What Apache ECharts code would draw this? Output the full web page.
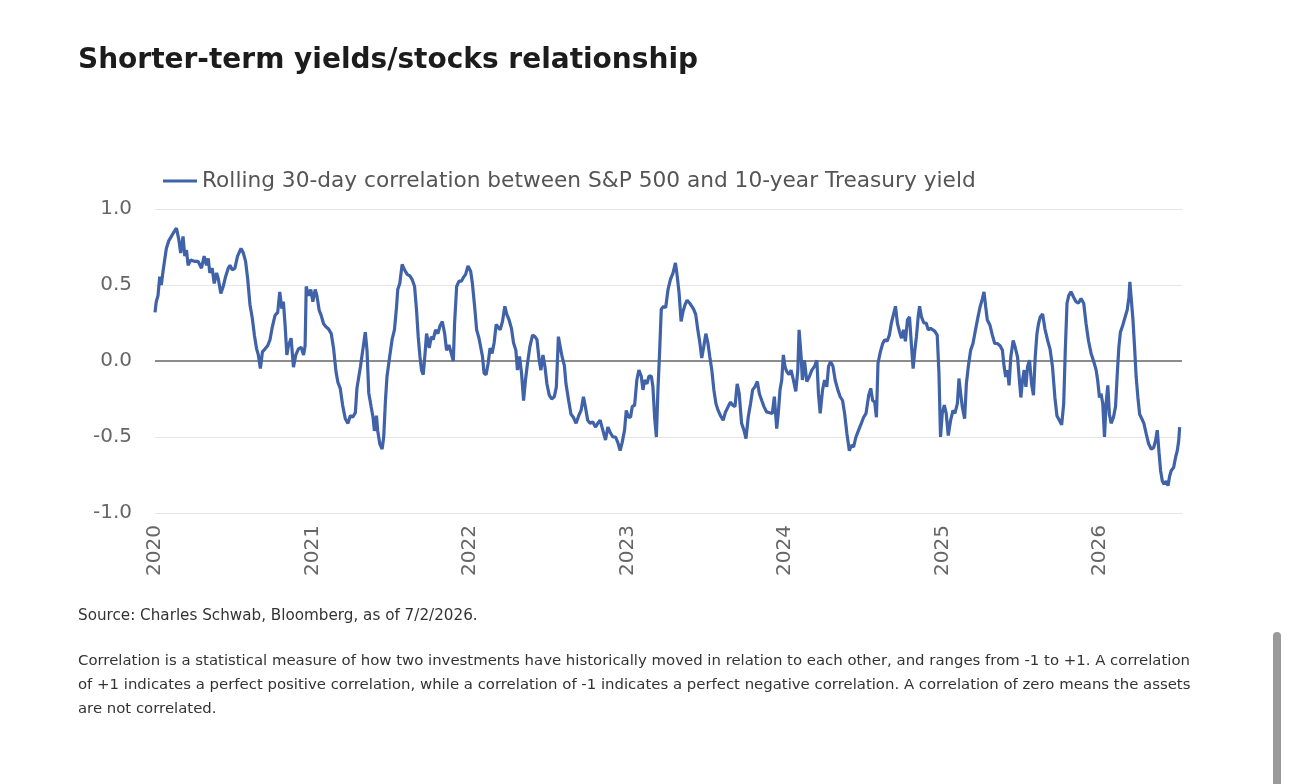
<!DOCTYPE html>
<html>
<head>
<meta charset="utf-8">
<title>Shorter-term yields/stocks relationship</title>
<script src="https://cdn.jsdelivr.net/npm/echarts@6/dist/echarts.min.js"></script>
<style>
  html, body { margin: 0; padding: 0; background: #fff; }
  #chart { width: 1290px; height: 784px; }
</style>
</head>
<body>
<div id="chart"></div>
<script>
// decimal years (2020.0 = Jan 1 2020)
const years = [
  2020.000, 2020.008, 2020.019, 2020.030, 2020.040, 2020.051, 2020.072, 2020.087, 2020.104, 2020.121,
  2020.136, 2020.151, 2020.163, 2020.178, 2020.189, 2020.200, 2020.210, 2020.227, 2020.253, 2020.274,
  2020.295, 2020.312, 2020.327, 2020.338, 2020.348, 2020.363, 2020.376, 2020.391, 2020.401, 2020.418,
  2020.433, 2020.448, 2020.465, 2020.476, 2020.490, 2020.507, 2020.524, 2020.546, 2020.561, 2020.575,
  2020.588, 2020.603, 2020.618, 2020.631, 2020.645, 2020.656, 2020.669, 2020.682, 2020.699, 2020.715,
  2020.730, 2020.745, 2020.762, 2020.779, 2020.792, 2020.805, 2020.815, 2020.826, 2020.837, 2020.847,
  2020.864, 2020.879, 2020.894, 2020.911, 2020.928, 2020.943, 2020.953, 2020.960, 2020.975, 2020.989,
  2021.002, 2021.017, 2021.028, 2021.042, 2021.055, 2021.070, 2021.085, 2021.102, 2021.119, 2021.134,
  2021.149, 2021.161, 2021.176, 2021.191, 2021.208, 2021.225, 2021.240, 2021.255, 2021.272, 2021.282,
  2021.304, 2021.335, 2021.346, 2021.357, 2021.372, 2021.384, 2021.393, 2021.406, 2021.414, 2021.427,
  2021.442, 2021.452, 2021.463, 2021.473, 2021.490, 2021.505, 2021.520, 2021.533, 2021.541, 2021.554,
  2021.569, 2021.584, 2021.601, 2021.618, 2021.633, 2021.648, 2021.660, 2021.671, 2021.682, 2021.692,
  2021.703, 2021.713, 2021.724, 2021.732, 2021.741, 2021.754, 2021.766, 2021.781, 2021.796, 2021.809,
  2021.824, 2021.839, 2021.851, 2021.866, 2021.881, 2021.894, 2021.902, 2021.915, 2021.930, 2021.945,
  2021.958, 2021.972, 2021.987, 2022.004, 2022.015, 2022.030, 2022.042, 2022.057, 2022.068, 2022.079,
  2022.089, 2022.102, 2022.115, 2022.127, 2022.140, 2022.153, 2022.166, 2022.178, 2022.191, 2022.206,
  2022.221, 2022.234, 2022.248, 2022.263, 2022.276, 2022.291, 2022.301, 2022.314, 2022.327, 2022.340,
  2022.352, 2022.365, 2022.380, 2022.397, 2022.412, 2022.425, 2022.439, 2022.450, 2022.463, 2022.476,
  2022.488, 2022.503, 2022.518, 2022.535, 2022.548, 2022.561, 2022.584, 2022.599, 2022.609, 2022.626,
  2022.641, 2022.656, 2022.673, 2022.690, 2022.705, 2022.720, 2022.732, 2022.747, 2022.762, 2022.779,
  2022.796, 2022.811, 2022.826, 2022.843, 2022.860, 2022.875, 2022.890, 2022.907, 2022.924, 2022.938,
  2022.953, 2022.966, 2022.981, 2022.992, 2023.006, 2023.019, 2023.030, 2023.045, 2023.059, 2023.072,
  2023.087, 2023.098, 2023.108, 2023.123, 2023.136, 2023.151, 2023.161, 2023.172, 2023.183, 2023.193,
  2023.204, 2023.214, 2023.229, 2023.242, 2023.257, 2023.272, 2023.289, 2023.304, 2023.314, 2023.327,
  2023.340, 2023.352, 2023.365, 2023.378, 2023.395, 2023.408, 2023.420, 2023.433, 2023.446, 2023.459,
  2023.471, 2023.484, 2023.497, 2023.510, 2023.522, 2023.535, 2023.548, 2023.561, 2023.575, 2023.590,
  2023.607, 2023.622, 2023.639, 2023.654, 2023.667, 2023.682, 2023.696, 2023.709, 2023.724, 2023.739,
  2023.752, 2023.766, 2023.781, 2023.794, 2023.809, 2023.824, 2023.837, 2023.852, 2023.866, 2023.883,
  2023.919, 2023.932, 2023.947, 2023.957, 2023.968, 2023.979, 2023.989, 2024.000, 2024.011, 2024.025,
  2024.038, 2024.053, 2024.068, 2024.081, 2024.089, 2024.102, 2024.110, 2024.123, 2024.138, 2024.153,
  2024.170, 2024.187, 2024.202, 2024.212, 2024.223, 2024.238, 2024.251, 2024.265, 2024.276, 2024.289,
  2024.304, 2024.318, 2024.335, 2024.350, 2024.365, 2024.378, 2024.393, 2024.408, 2024.420, 2024.435,
  2024.450, 2024.467, 2024.484, 2024.499, 2024.514, 2024.531, 2024.544, 2024.556, 2024.569, 2024.580,
  2024.590, 2024.605, 2024.620, 2024.633, 2024.648, 2024.662, 2024.675, 2024.686, 2024.701, 2024.713,
  2024.726, 2024.739, 2024.752, 2024.764, 2024.777, 2024.790, 2024.803, 2024.813, 2024.824, 2024.834,
  2024.845, 2024.854, 2024.866, 2024.881, 2024.896, 2024.909, 2024.924, 2024.938, 2024.951, 2024.966,
  2024.977, 2024.987, 2024.998, 2025.011, 2025.023, 2025.036, 2025.051, 2025.066, 2025.078, 2025.094,
  2025.104, 2025.115, 2025.125, 2025.140, 2025.151, 2025.163, 2025.178, 2025.193, 2025.210, 2025.225,
  2025.238, 2025.253, 2025.263, 2025.274, 2025.284, 2025.301, 2025.316, 2025.331, 2025.348, 2025.365,
  2025.380, 2025.391, 2025.401, 2025.412, 2025.422, 2025.433, 2025.448, 2025.461, 2025.476, 2025.488,
  2025.497, 2025.507, 2025.518, 2025.529, 2025.539, 2025.552, 2025.565, 2025.577, 2025.588, 2025.599,
  2025.609, 2025.620, 2025.635, 2025.650, 2025.667, 2025.682, 2025.698, 2025.713, 2025.726, 2025.741,
  2025.756, 2025.769, 2025.779, 2025.790, 2025.801, 2025.815, 2025.832, 2025.847, 2025.862, 2025.879,
  2025.896, 2025.911, 2025.926, 2025.943, 2025.960, 2025.975, 2025.985, 2025.996, 2026.006, 2026.017,
  2026.028, 2026.038, 2026.049, 2026.059, 2026.070, 2026.085, 2026.098, 2026.108, 2026.119, 2026.129,
  2026.144, 2026.159, 2026.172, 2026.183, 2026.189, 2026.197, 2026.208, 2026.219, 2026.229, 2026.240,
  2026.251, 2026.265, 2026.278, 2026.293, 2026.308, 2026.325, 2026.340, 2026.352, 2026.363, 2026.374,
  2026.384, 2026.395, 2026.406, 2026.420, 2026.431, 2026.442, 2026.452, 2026.467, 2026.480, 2026.490,
  2026.499, 2026.505
];

// rolling 30-day correlation, S&P 500 vs 10-year Treasury yield
const correlation = [
  0.32, 0.39, 0.43, 0.555, 0.50, 0.59, 0.74, 0.79, 0.82, 0.85,
  0.875, 0.80, 0.71, 0.82, 0.69, 0.73, 0.63, 0.665, 0.655, 0.655,
  0.61, 0.69, 0.63, 0.675, 0.58, 0.61, 0.51, 0.58, 0.545, 0.445,
  0.49, 0.555, 0.61, 0.63, 0.60, 0.61, 0.69, 0.74, 0.71, 0.655,
  0.545, 0.37, 0.28, 0.17, 0.08, 0.04, -0.05, 0.06, 0.08, 0.10,
  0.14, 0.225, 0.30, 0.32, 0.455, 0.345, 0.39, 0.235, 0.04, 0.10,
  0.15, -0.04, 0.04, 0.08, 0.09, 0.04, 0.10, 0.49, 0.43, 0.47,
  0.39, 0.47, 0.43, 0.335, 0.30, 0.245, 0.225, 0.21, 0.18, 0.08,
  -0.07, -0.14, -0.18, -0.29, -0.38, -0.41, -0.36, -0.37, -0.34, -0.18,
  -0.04, 0.19, 0.07, -0.21, -0.30, -0.37, -0.46, -0.36, -0.46, -0.545,
  -0.58, -0.50, -0.26, -0.10, 0.03, 0.14, 0.205, 0.35, 0.47, 0.51,
  0.635, 0.60, 0.57, 0.56, 0.535, 0.49, 0.34, 0.16, 0.03, -0.06,
  -0.09, 0.03, 0.18, 0.19, 0.085, 0.16, 0.14, 0.205, 0.18, 0.23,
  0.26, 0.18, 0.07, 0.105, 0.05, 0.00, 0.25, 0.49, 0.525, 0.525,
  0.55, 0.57, 0.625, 0.59, 0.51, 0.35, 0.205, 0.15, 0.16, 0.03,
  -0.08, -0.09, -0.015, 0.085, 0.05, 0.12, 0.24, 0.23, 0.205, 0.26,
  0.36, 0.305, 0.27, 0.215, 0.12, 0.07, -0.06, 0.03, -0.08, -0.26,
  -0.125, -0.015, 0.095, 0.17, 0.16, 0.14, 0.005, -0.06, 0.04, -0.04,
  -0.15, -0.225, -0.25, -0.235, -0.17, 0.16, 0.03, -0.03, -0.15, -0.26,
  -0.35, -0.37, -0.41, -0.36, -0.325, -0.235, -0.30, -0.39, -0.41, -0.40,
  -0.435, -0.41, -0.39, -0.455, -0.52, -0.435, -0.47, -0.50, -0.50, -0.535,
  -0.59, -0.535, -0.455, -0.325, -0.37, -0.37, -0.30, -0.29, -0.125, -0.06,
  -0.10, -0.19, -0.125, -0.15, -0.10, -0.10, -0.17, -0.37, -0.50, -0.19,
  0.07, 0.34, 0.36, 0.35, 0.47, 0.535, 0.58, 0.645, 0.57, 0.45,
  0.26, 0.325, 0.37, 0.40, 0.38, 0.36, 0.34, 0.305, 0.205, 0.12,
  0.02, 0.095, 0.18, 0.12, 0.03, -0.06, -0.19, -0.28, -0.325, -0.36,
  -0.39, -0.335, -0.30, -0.27, -0.29, -0.30, -0.15, -0.215, -0.41, -0.455,
  -0.51, -0.37, -0.28, -0.19, -0.17, -0.135, -0.215, -0.26, -0.30, -0.335,
  -0.345, -0.235, -0.445, -0.345, -0.19, -0.125, 0.04, -0.04, -0.07, -0.09,
  -0.06, -0.125, -0.20, -0.06, 0.205, 0.03, -0.125, 0.005, -0.135, -0.105,
  -0.06, -0.035, 0.005, -0.215, -0.345, -0.19, -0.125, -0.17, -0.035, -0.005,
  -0.035, -0.125, -0.19, -0.235, -0.26, -0.345, -0.48, -0.59, -0.555, -0.565,
  -0.50, -0.455, -0.41, -0.37, -0.345, -0.225, -0.18, -0.26, -0.27, -0.37,
  -0.015, 0.06, 0.115, 0.14, 0.13, 0.17, 0.25, 0.26, 0.36, 0.25,
  0.195, 0.15, 0.205, 0.13, 0.27, 0.29, 0.095, -0.05, 0.07, 0.16,
  0.29, 0.36, 0.29, 0.25, 0.25, 0.205, 0.215, 0.205, 0.195, 0.17,
  -0.08, -0.50, -0.345, -0.29, -0.345, -0.49, -0.39, -0.325, -0.345, -0.28,
  -0.115, -0.215, -0.30, -0.38, -0.15, -0.04, 0.07, 0.115, 0.21, 0.29,
  0.355, 0.41, 0.455, 0.355, 0.27, 0.235, 0.17, 0.115, 0.115, 0.10,
  0.07, -0.04, -0.105, -0.06, -0.16, 0.025, 0.135, 0.09, 0.025, -0.13,
  -0.24, -0.13, -0.06, -0.17, -0.04, 0.005, -0.15, -0.225, 0.025, 0.18,
  0.245, 0.29, 0.31, 0.21, 0.135, 0.08, -0.04, -0.24, -0.36, -0.39,
  -0.42, -0.28, 0.07, 0.38, 0.43, 0.455, 0.42, 0.39, 0.38, 0.41,
  0.38, 0.245, 0.135, 0.05, -0.005, -0.06, -0.13, -0.24, -0.215, -0.28,
  -0.50, -0.28, -0.16, -0.35, -0.41, -0.37, -0.30, -0.105, 0.09, 0.19,
  0.235, 0.29, 0.335, 0.42, 0.52, 0.42, 0.28, 0.09, -0.105, -0.24,
  -0.35, -0.38, -0.41, -0.48, -0.545, -0.58, -0.57, -0.525, -0.455, -0.60,
  -0.72, -0.79, -0.81, -0.79, -0.82, -0.755, -0.72, -0.70, -0.63, -0.59,
  -0.525, -0.435
];

const yearTicks = [2020, 2021, 2022, 2023, 2024, 2025, 2026];
const seriesName = 'Rolling 30-day correlation between S&P 500 and 10-year Treasury yield';
const sourceText = 'Source: Charles Schwab, Bloomberg, as of 7/2/2026.';
const noteLines = [
  'Correlation is a statistical measure of how two investments have historically moved in relation to each other, and ranges from -1 to +1. A correlation',
  'of +1 indicates a perfect positive correlation, while a correlation of -1 indicates a perfect negative correlation. A correlation of zero means the assets',
  'are not correlated.'
];

const FONT = '"DejaVu Sans", "Liberation Sans", sans-serif';
const chart = echarts.init(document.getElementById('chart'));

const points = years.map(function (y, i) { return [y, correlation[i]]; });

const noteGraphics = noteLines.map(function (line, i) {
  return {
    type: 'text',
    left: 78,
    top: 654 + i * 24,
    style: { text: line, font: '14.9px ' + FONT, fill: '#333' }
  };
});

chart.setOption({
  animation: false,
  backgroundColor: '#fff',
  title: {
    text: 'Shorter-term yields/stocks relationship',
    left: 73,
    top: 42,
    textStyle: { fontFamily: FONT, fontSize: 28, fontWeight: 'bold', color: '#1c1c1c' }
  },
  legend: {
    left: 158,
    top: 165,
    itemWidth: 34,
    itemHeight: 3,
    data: [{ name: seriesName, icon: 'rect' }],
    textStyle: { fontFamily: FONT, fontSize: 21.7, color: '#555' }
  },
  grid: { left: 155, right: 108, top: 209, bottom: 271 },
  xAxis: {
    type: 'value',
    min: yearTicks[0],
    max: 2026.52,
    interval: 1,
    axisLine: { show: false },
    axisTick: { show: false },
    splitLine: { show: false },
    axisLabel: {
      rotate: 90,
      margin: 12,
      showMaxLabel: false,
      fontFamily: FONT,
      fontSize: 20,
      color: '#666',
      formatter: function (v) { return yearTicks.indexOf(v) >= 0 ? String(v) : ''; }
    }
  },
  yAxis: {
    type: 'value',
    min: -1,
    max: 1,
    interval: 0.5,
    axisLine: { show: false },
    axisTick: { show: false },
    splitLine: { lineStyle: { color: '#e6e6e6', width: 1 } },
    axisLabel: {
      margin: 23,
      fontFamily: FONT,
      fontSize: 20,
      color: '#666',
      formatter: function (v) { return v.toFixed(1); }
    }
  },
  series: [{
    name: seriesName,
    type: 'line',
    data: points,
    showSymbol: false,
    symbol: 'none',
    color: '#4062a8',
    lineStyle: { color: '#4062a8', width: 3.2 },
    markLine: {
      z: 1,
      silent: true,
      symbol: 'none',
      label: { show: false },
      lineStyle: { color: '#8c8c8c', width: 2, type: 'solid' },
      data: [{ yAxis: 0 }]
    }
  }],
  graphic: [
    {
      type: 'text',
      left: 78,
      top: 609,
      style: { text: sourceText, font: '15.2px ' + FONT, fill: '#333' }
    },
    {
      type: 'rect',
      shape: { x: 1273, y: 632, width: 8, height: 160, r: 4 },
      style: { fill: '#9a9a9a' }
    }
  ].concat(noteGraphics)
});
</script>
</body>
</html>
